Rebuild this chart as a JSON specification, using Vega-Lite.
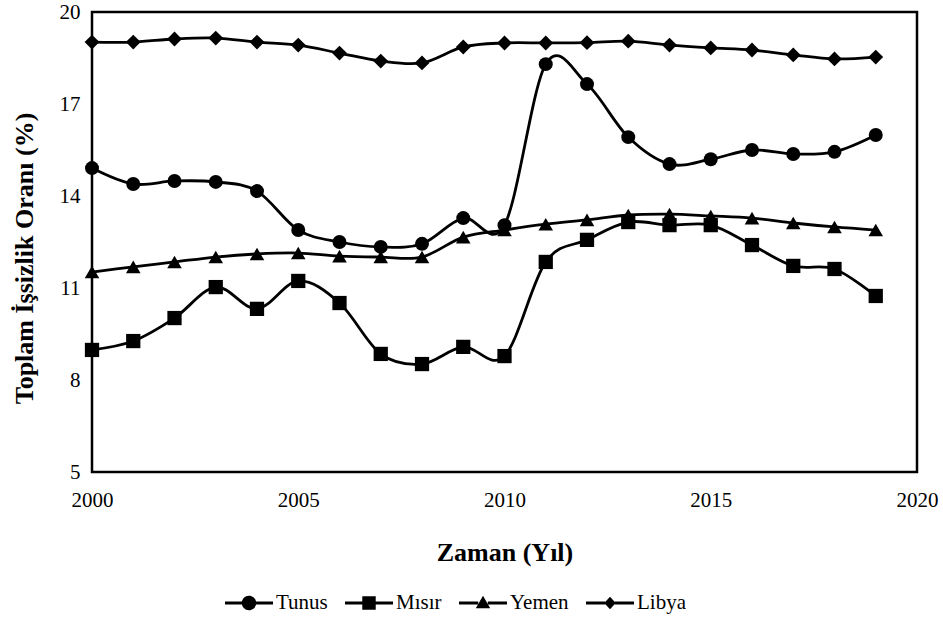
{
  "$schema": "https://vega.github.io/schema/vega-lite/v6.json",
  "autosize": {"type": "none"},
  "padding": {"left": 92, "top": 12, "right": 26, "bottom": 145},
  "width": 825,
  "height": 460,
  "background": "white",
  "config": {
    "view": {"stroke": "#000", "strokeWidth": 2.5},
    "font": "Liberation Serif",
    "axis": {"labelFont": "Liberation Serif", "titleFont": "Liberation Serif", "labelColor": "#000", "titleColor": "#000", "grid": false, "ticks": false, "domain": false}
  },
  "data": {"values": [
    {"year": 2000, "country": "Tunus", "value": 14.91},
    {"year": 2001, "country": "Tunus", "value": 14.39},
    {"year": 2002, "country": "Tunus", "value": 14.49},
    {"year": 2003, "country": "Tunus", "value": 14.46},
    {"year": 2004, "country": "Tunus", "value": 14.16},
    {"year": 2005, "country": "Tunus", "value": 12.89},
    {"year": 2006, "country": "Tunus", "value": 12.5},
    {"year": 2007, "country": "Tunus", "value": 12.34},
    {"year": 2008, "country": "Tunus", "value": 12.44},
    {"year": 2009, "country": "Tunus", "value": 13.28},
    {"year": 2010, "country": "Tunus", "value": 13.05},
    {"year": 2011, "country": "Tunus", "value": 18.3},
    {"year": 2012, "country": "Tunus", "value": 17.65},
    {"year": 2013, "country": "Tunus", "value": 15.92},
    {"year": 2014, "country": "Tunus", "value": 15.04},
    {"year": 2015, "country": "Tunus", "value": 15.2},
    {"year": 2016, "country": "Tunus", "value": 15.5},
    {"year": 2017, "country": "Tunus", "value": 15.37},
    {"year": 2018, "country": "Tunus", "value": 15.44},
    {"year": 2019, "country": "Tunus", "value": 15.99},
    {"year": 2000, "country": "Mısır", "value": 8.98},
    {"year": 2001, "country": "Mısır", "value": 9.27},
    {"year": 2002, "country": "Mısır", "value": 10.02},
    {"year": 2003, "country": "Mısır", "value": 11.03},
    {"year": 2004, "country": "Mısır", "value": 10.32},
    {"year": 2005, "country": "Mısır", "value": 11.23},
    {"year": 2006, "country": "Mısır", "value": 10.51},
    {"year": 2007, "country": "Mısır", "value": 8.85},
    {"year": 2008, "country": "Mısır", "value": 8.52},
    {"year": 2009, "country": "Mısır", "value": 9.08},
    {"year": 2010, "country": "Mısır", "value": 8.78},
    {"year": 2011, "country": "Mısır", "value": 11.85},
    {"year": 2012, "country": "Mısır", "value": 12.57},
    {"year": 2013, "country": "Mısır", "value": 13.15},
    {"year": 2014, "country": "Mısır", "value": 13.05},
    {"year": 2015, "country": "Mısır", "value": 13.05},
    {"year": 2016, "country": "Mısır", "value": 12.4},
    {"year": 2017, "country": "Mısır", "value": 11.72},
    {"year": 2018, "country": "Mısır", "value": 11.62},
    {"year": 2019, "country": "Mısır", "value": 10.74},
    {"year": 2000, "country": "Yemen", "value": 11.52},
    {"year": 2001, "country": "Yemen", "value": 11.69},
    {"year": 2002, "country": "Yemen", "value": 11.85},
    {"year": 2003, "country": "Yemen", "value": 12.01},
    {"year": 2004, "country": "Yemen", "value": 12.11},
    {"year": 2005, "country": "Yemen", "value": 12.14},
    {"year": 2006, "country": "Yemen", "value": 12.04},
    {"year": 2007, "country": "Yemen", "value": 12.01},
    {"year": 2008, "country": "Yemen", "value": 12.01},
    {"year": 2009, "country": "Yemen", "value": 12.66},
    {"year": 2010, "country": "Yemen", "value": 12.89},
    {"year": 2011, "country": "Yemen", "value": 13.08},
    {"year": 2012, "country": "Yemen", "value": 13.22},
    {"year": 2013, "country": "Yemen", "value": 13.38},
    {"year": 2014, "country": "Yemen", "value": 13.41},
    {"year": 2015, "country": "Yemen", "value": 13.35},
    {"year": 2016, "country": "Yemen", "value": 13.28},
    {"year": 2017, "country": "Yemen", "value": 13.12},
    {"year": 2018, "country": "Yemen", "value": 12.99},
    {"year": 2019, "country": "Yemen", "value": 12.89},
    {"year": 2000, "country": "Libya", "value": 19.02},
    {"year": 2001, "country": "Libya", "value": 19.02},
    {"year": 2002, "country": "Libya", "value": 19.12},
    {"year": 2003, "country": "Libya", "value": 19.15},
    {"year": 2004, "country": "Libya", "value": 19.02},
    {"year": 2005, "country": "Libya", "value": 18.92},
    {"year": 2006, "country": "Libya", "value": 18.66},
    {"year": 2007, "country": "Libya", "value": 18.4},
    {"year": 2008, "country": "Libya", "value": 18.34},
    {"year": 2009, "country": "Libya", "value": 18.86},
    {"year": 2010, "country": "Libya", "value": 18.99},
    {"year": 2011, "country": "Libya", "value": 18.99},
    {"year": 2012, "country": "Libya", "value": 19.0},
    {"year": 2013, "country": "Libya", "value": 19.05},
    {"year": 2014, "country": "Libya", "value": 18.92},
    {"year": 2015, "country": "Libya", "value": 18.83},
    {"year": 2016, "country": "Libya", "value": 18.76},
    {"year": 2017, "country": "Libya", "value": 18.6},
    {"year": 2018, "country": "Libya", "value": 18.47},
    {"year": 2019, "country": "Libya", "value": 18.53}
  ]},
  "encoding": {
    "x": {"field": "year", "type": "quantitative",
      "scale": {"domain": [2000, 2020], "nice": false},
      "axis": {"values": [2000, 2005, 2010, 2015, 2020], "format": "d", "labelFontSize": 21, "labelPadding": 17, "title": "Zaman (Yıl)", "titleFontSize": 26, "titleFontWeight": "bold", "titlePadding": 29, "labelFlush": false}},
    "y": {"field": "value", "type": "quantitative",
      "scale": {"domain": [5, 20], "nice": false, "zero": false},
      "axis": {"values": [5, 8, 11, 14, 17, 20], "labelFontSize": 21, "labelPadding": 12, "title": "Toplam İşsizlik Oranı (%)", "titleFontSize": 26, "titleFontWeight": "bold", "titlePadding": 22, "titleY": 246, "labelFlush": false}}
  },
  "layer": [
    {
      "mark": {"type": "line", "interpolate": "cardinal", "color": "#000", "strokeWidth": 2.8},
      "encoding": {"detail": {"field": "country"}}
    },
    {
      "mark": {"type": "point", "filled": true, "color": "#000", "opacity": 1},
      "encoding": {
        "shape": {"field": "country", "type": "nominal",
          "scale": {"domain": ["Tunus", "Mısır", "Yemen", "Libya"], "range": ["circle", "square", "triangle-up", "diamond"]},
          "legend": null},
        "size": {"field": "country", "type": "nominal",
          "scale": {"domain": ["Tunus", "Mısır", "Yemen", "Libya"], "range": [195, 220, 200, 160]},
          "legend": null}
      }
    },
    {
      "transform": [{"filter": "datum.year < 1900"}],
      "mark": {"type": "point", "filled": true, "color": "#000", "opacity": 1, "size": 2304},
      "encoding": {
        "shape": {"field": "country", "type": "nominal",
          "scale": {"domain": ["Tunus", "Mısır", "Yemen", "Libya"], "range": [
            "M-0.3,0 A0.3,0.3 0 1,1 0.3,0 A0.3,0.3 0 1,1 -0.3,0 Z M-1,-0.065 L-0.25,-0.065 L-0.25,0.065 L-1,0.065 Z M0.25,-0.065 L1,-0.065 L1,0.065 L0.25,0.065 Z",
            "M-0.28,-0.28 L0.28,-0.28 L0.28,0.28 L-0.28,0.28 Z M-1,-0.065 L-0.25,-0.065 L-0.25,0.065 L-1,0.065 Z M0.25,-0.065 L1,-0.065 L1,0.065 L0.25,0.065 Z",
            "M0,-0.3 L0.3,0.22 L-0.3,0.22 Z M-1,-0.065 L-0.2,-0.065 L-0.2,0.065 L-1,0.065 Z M0.2,-0.065 L1,-0.065 L1,0.065 L0.2,0.065 Z",
            "M0,-0.26 L0.24,0 L0,0.26 L-0.24,0 Z M-1,-0.065 L-0.2,-0.065 L-0.2,0.065 L-1,0.065 Z M0.2,-0.065 L1,-0.065 L1,0.065 L0.2,0.065 Z"
          ]},
          "legend": {"title": null, "orient": "none", "direction": "horizontal", "legendX": 133, "legendY": 567,
            "labelFont": "Liberation Serif", "labelFontSize": 21, "labelColor": "#000", "labelOffset": 3,
            "symbolSize": 2304, "symbolFillColor": "#000", "symbolStrokeWidth": 0, "symbolOpacity": 1, "columnPadding": 17}
        }
      }
    }
  ],
  "resolve": {"scale": {"shape": "independent", "size": "independent"}, "legend": {"shape": "independent"}}
}
